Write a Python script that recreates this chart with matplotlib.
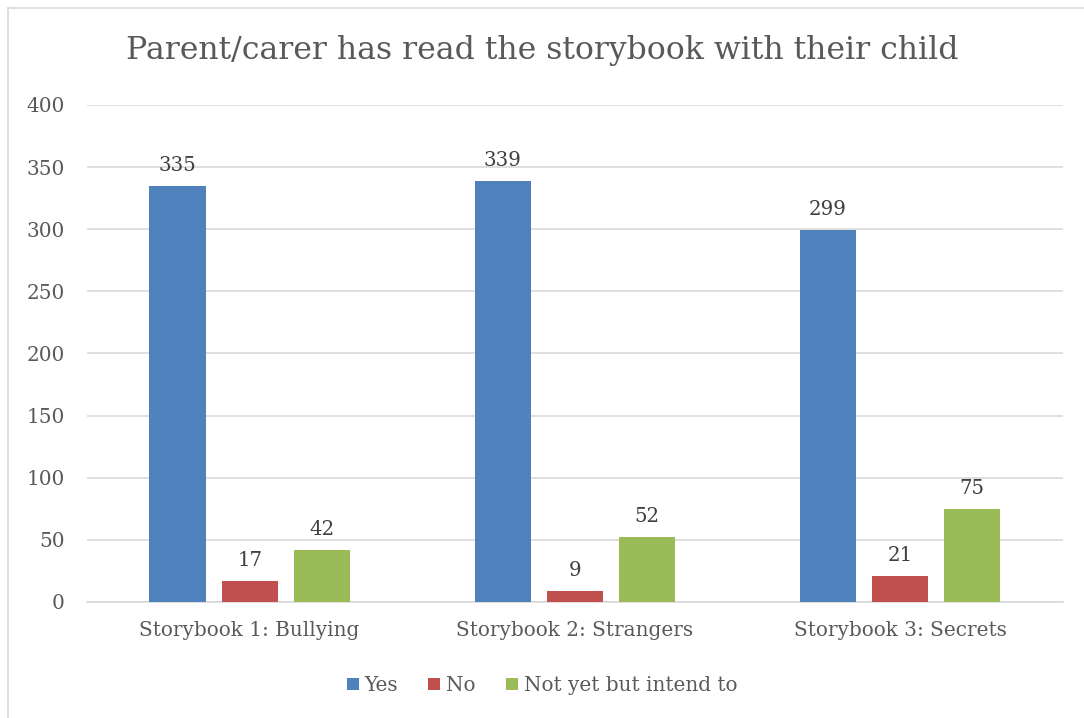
import matplotlib.pyplot as plt
from matplotlib.lines import Line2D
import numpy as np

# Survey responses per storybook
categories = ["Storybook 1: Bullying", "Storybook 2: Strangers", "Storybook 3: Secrets"]
yes = [335, 339, 299]
no = [17, 9, 21]
intend = [42, 52, 75]
series_names = ["Yes", "No", "Not yet but intend to"]
colours = ["#4f81bd", "#c0504d", "#9bbb59"]

text_grey = "#595959"
plt.rcParams["font.family"] = ["DejaVu Serif"]

fig = plt.figure(figsize=(10.84, 7.18), dpi=100)
ax = fig.add_axes([0.0803, 0.1616, 0.9, 0.6922])

x = np.arange(len(categories))
width = 0.173
step = 0.2215
for i, (vals, name, col) in enumerate(zip([yes, no, intend], series_names, colours)):
    pos = x + (i - 1) * step
    bars = ax.bar(pos, vals, width, color=col, label=name, zorder=3)
    for b, v in zip(bars, vals):
        ax.text(b.get_x() + b.get_width() / 2, v + 9, str(v), ha="center",
                va="bottom", fontsize=14.2, color="#404040")

ax.set_xlim(-0.5, 2.5)
ax.set_ylim(0, 400)
ax.set_yticks(range(0, 401, 50))
ax.set_xticks(x)
ax.set_xticklabels(categories)
ax.tick_params(axis="both", length=0, labelsize=14.4, colors=text_grey)
ax.tick_params(axis="x", pad=14)
ax.tick_params(axis="y", pad=16)
ax.grid(axis="y", color="#d9d9d9", linewidth=1.2, zorder=0)
for s in ["top", "right", "left"]:
    ax.spines[s].set_visible(False)
ax.spines["bottom"].set_color("#d9d9d9")
ax.spines["bottom"].set_linewidth(1.2)

fig.text(0.5, 0.93, "Parent/carer has read the storybook with their child",
         ha="center", va="center", fontsize=22.7, color=text_grey)

fig.legend(loc="center", bbox_to_anchor=(0.5, 0.045), ncol=3, frameon=False,
           fontsize=14.4, labelcolor=text_grey, handlelength=0.6,
           handleheight=0.6, handletextpad=0.3, columnspacing=1.5)

# chart area border
fig.add_artist(Line2D([0.0075, 0.0075], [0, 0.989], color="#d9d9d9", lw=1.2,
                      transform=fig.transFigure))
fig.add_artist(Line2D([0.0075, 1], [0.989, 0.989], color="#d9d9d9", lw=1.2,
                      transform=fig.transFigure))

fig.savefig("out.png", dpi=100)
